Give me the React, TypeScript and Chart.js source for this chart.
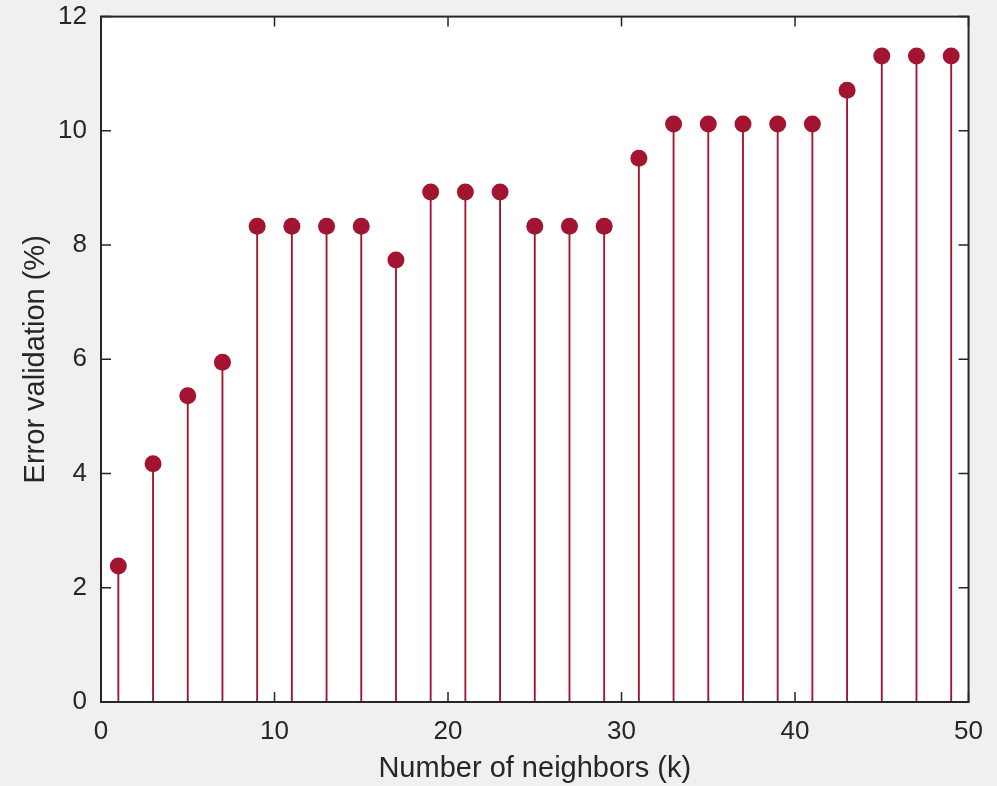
import React, { useEffect, useRef } from "react";
import { Chart, registerables } from "chart.js";

Chart.register(...registerables);

const kValues = [1, 3, 5, 7, 9, 11, 13, 15, 17, 19, 21, 23, 25, 27, 29, 31, 33, 35, 37, 39, 41, 43, 45, 47, 49];
const errorValues = [2.38, 4.17, 5.36, 5.95, 8.33, 8.33, 8.33, 8.33, 7.74, 8.93, 8.93, 8.93, 8.33, 8.33, 8.33, 9.52, 10.12, 10.12, 10.12, 10.12, 10.12, 10.71, 11.31, 11.31, 11.31];
const xTitle = "Number of neighbors (k)";
const yTitle = "Error validation (%)";

const STEM = "#A2142F";
const AXIS = "#262626";
const FONT = "'Liberation Sans', Arial, sans-serif";

const boxPlugin = {
  id: "matlabBox",
  afterDatasetsDraw(chart: any) {
    const { ctx, chartArea, scales } = chart;
    const { left, right, top, bottom } = chartArea;
    ctx.save();
    ctx.strokeStyle = AXIS;
    ctx.lineWidth = 1.5;
    const tl = 10;
    ctx.beginPath();
    scales.x.ticks.forEach((t: any) => {
      const px = scales.x.getPixelForValue(t.value);
      ctx.moveTo(px, bottom);
      ctx.lineTo(px, bottom - tl);
      ctx.moveTo(px, top);
      ctx.lineTo(px, top + tl);
    });
    scales.y.ticks.forEach((t: any) => {
      const py = scales.y.getPixelForValue(t.value);
      ctx.moveTo(left, py);
      ctx.lineTo(left + tl, py);
      ctx.moveTo(right, py);
      ctx.lineTo(right - tl, py);
    });
    ctx.stroke();
    ctx.lineWidth = 2;
    ctx.strokeRect(left, top, right - left, bottom - top);
    ctx.restore();
  },
};

const bgPlugin = {
  id: "areaBg",
  beforeDraw(chart: any) {
    const { ctx, chartArea, width, height } = chart;
    ctx.save();
    ctx.fillStyle = "#f0f0f0";
    ctx.fillRect(0, 0, width, height);
    ctx.fillStyle = "#ffffff";
    ctx.fillRect(chartArea.left, chartArea.top, chartArea.right - chartArea.left, chartArea.bottom - chartArea.top);
    ctx.restore();
  },
};

export default function App() {
  const ref = useRef<HTMLCanvasElement | null>(null);
  useEffect(() => {
    if (!ref.current) return;
    const points = kValues.map((k, i) => ({ x: k, y: errorValues[i] }));
    const chart = new Chart(ref.current, {
      type: "bar",
      data: {
        datasets: [
          {
            type: "scatter",
            data: points,
            pointRadius: 8.5,
            pointHoverRadius: 8.5,
            backgroundColor: STEM,
            borderWidth: 0,
            order: 0,
          } as any,
          {
            type: "bar",
            data: points,
            backgroundColor: STEM,
            barThickness: 1.2,
            borderWidth: 0,
            order: 1,
          } as any,
        ],
      },
      options: {
        responsive: false,
        animation: false,
        events: [],
        layout: { padding: { top: 5, right: 26, left: 0, bottom: 0 } },
        plugins: { legend: { display: false }, tooltip: { enabled: false } },
        scales: {
          x: {
            type: "linear",
            min: 0,
            max: 50,
            offset: false,
            grid: { display: false, drawTicks: false },
            border: { display: false },
            ticks: { stepSize: 10, padding: 14, color: AXIS, font: { family: FONT, size: 26 }, maxRotation: 0 },
            title: { display: true, text: xTitle, color: AXIS, font: { family: FONT, size: 29 }, padding: { top: 0, bottom: 0 } },
            afterFit: (s: any) => { s.height = 84; },
          },
          y: {
            type: "linear",
            min: 0,
            max: 12,
            grid: { display: false, drawTicks: false },
            border: { display: false },
            ticks: { stepSize: 2, padding: 14, color: AXIS, font: { family: FONT, size: 26, lineHeight: 0.2 } },
            title: { display: true, text: yTitle, color: AXIS, font: { family: FONT, size: 29 }, padding: { top: 19, bottom: 0 } },
            afterFit: (s: any) => { s.width = 101; },
          },
        },
      },
      plugins: [bgPlugin, boxPlugin],
    });
    return () => chart.destroy();
  }, []);
  return (
    <div style={{ position: "fixed", left: 0, top: 0, width: 997, height: 786, background: "#f0f0f0" }}>
      <canvas ref={ref} width={997} height={786} style={{ display: "block" }} />
    </div>
  );
}
